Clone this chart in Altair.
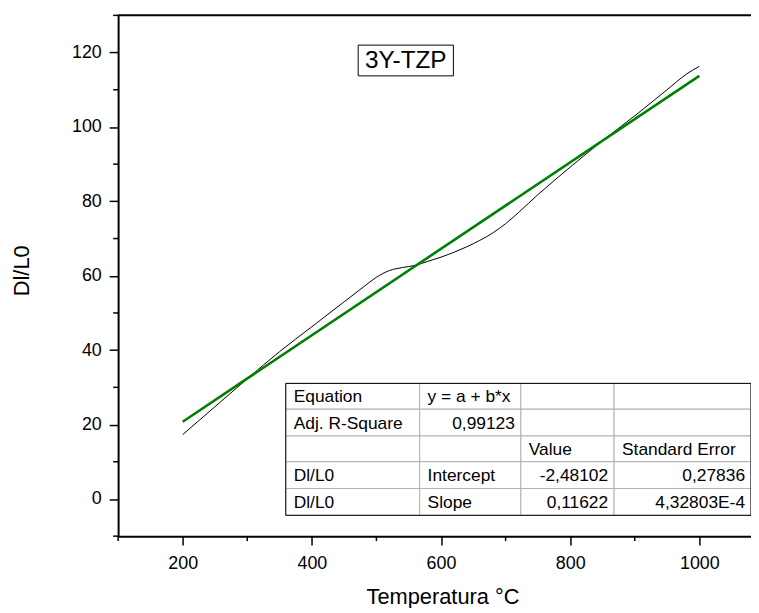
import altair as alt
import pandas as pd

# ---- data ----
temperature = [200, 250, 300, 350, 400, 450, 480, 500, 520, 540, 560, 580, 600,
               620, 640, 660, 680, 700, 720, 750, 800, 850, 900, 950, 980, 1000]
dl_l0 = [17.3, 24.8, 32.3, 39.6, 46.3, 53.0, 57.0, 59.6, 61.4, 62.2, 62.8, 63.9, 65.0,
         66.3, 67.8, 69.5, 71.5, 74.0, 77.0, 81.8, 89.2, 96.3, 103.0, 110.0, 114.2, 116.3]

fit_intercept = -2.48102
fit_slope = 0.11622
fit_range = [200, 1000]

x_major = [200, 400, 600, 800, 1000]
x_minor = [100, 300, 500, 700, 900]
y_major = [0, 20, 40, 60, 80, 100, 120]
y_minor = [-10, 10, 30, 50, 70, 90, 110, 130]

sample_label = "3Y-TZP"
x_title = "Temperatura °C"
y_title = "Dl/L0"

table_rows = [
    ["Equation", "y = a + b*x", "", ""],
    ["Adj. R-Square", "0,99123", "", ""],
    ["", "", "Value", "Standard Error"],
    ["Dl/L0", "Intercept", "-2,48102", "0,27836"],
    ["Dl/L0", "Slope", "0,11622", "4,32803E-4"],
]

# ---- layout (pixels inside plot area) ----
W, H = 638, 525
FONT = "Liberation Sans"
col_edges = [169, 304, 406, 500, 638]
row_edges = [371, 397, 424, 450, 477, 504]

x_scale = alt.Scale(domain=[100, 1080], nice=False, zero=False)
y_scale = alt.Scale(domain=[-10, 130], nice=False, zero=False)

x_axis = alt.Axis(
    values=x_major, format="d", tickSize=9, labelPadding=10,
    titleX=327, titleY=68, titleAlign="center", titleBaseline="alphabetic",
)
y_axis = alt.Axis(
    values=y_major, format="d", tickSize=9, labelPadding=8,
    titleX=-97, titleY=257, titleAngle=-90, titleAlign="center", titleBaseline="middle",
)

df = pd.DataFrame({"T": temperature, "D": dl_l0})
fit_df = pd.DataFrame({"T": fit_range,
                       "D": [fit_intercept + fit_slope * t for t in fit_range]})

curve = alt.Chart(df).mark_line(color="black", strokeWidth=1, interpolate="monotone").encode(
    x=alt.X("T:Q", scale=x_scale, axis=x_axis, title=x_title),
    y=alt.Y("D:Q", scale=y_scale, axis=y_axis, title=y_title),
)
fit = alt.Chart(fit_df).mark_line(color="#008000", strokeWidth=2.6).encode(
    x=alt.X("T:Q", scale=x_scale),
    y=alt.Y("D:Q", scale=y_scale),
)

# minor ticks
x_minor_ticks = alt.Chart(pd.DataFrame({"v": x_minor})).mark_rule(
    color="black", strokeWidth=1.5).encode(
    x=alt.X("v:Q", scale=x_scale), y=alt.value(H), y2=alt.value(H + 5)
)
y_minor_ticks = alt.Chart(pd.DataFrame({"v": y_minor})).mark_rule(
    color="black", strokeWidth=1.5).encode(
    y=alt.Y("v:Q", scale=y_scale), x=alt.value(-5), x2=alt.value(0)
)

top_border = alt.Chart(pd.DataFrame({"a": [0]})).mark_rule(color="black", strokeWidth=2).encode(
    x=alt.value(0), x2=alt.value(W), y=alt.value(0)
)

label_df = pd.DataFrame({"txt": [sample_label]})
label_box = alt.Chart(label_df).mark_rect(fill="white", stroke="black", strokeWidth=1).encode(
    x=alt.value(242), x2=alt.value(338), y=alt.value(30), y2=alt.value(61)
)
label_text = alt.Chart(label_df).mark_text(font=FONT, fontSize=24.5, align="center",
                                           baseline="middle", color="black").encode(
    x=alt.value(290), y=alt.value(46.5), text="txt:N"
)

# table cells
cells = []
for r, row in enumerate(table_rows):
    for c, txt in enumerate(row):
        is_num = len(txt) > 0 and (txt[0].isdigit() or (txt[0] == "-" and txt[1].isdigit()))
        cells.append({
            "x": col_edges[c], "x2": col_edges[c + 1],
            "y": row_edges[r], "y2": row_edges[r + 1],
            "yc": (row_edges[r] + row_edges[r + 1]) / 2 + 1,
            "tl": col_edges[c] + 8, "tr": col_edges[c + 1] - 6,
            "txt": txt, "num": is_num,
        })
cells_df = pd.DataFrame(cells)

cell_rects = alt.Chart(cells_df).mark_rect(fill="white", stroke="#b0b0b0", strokeWidth=1).encode(
    x=alt.X("x:Q", scale=None, axis=None), x2="x2:Q",
    y=alt.Y("y:Q", scale=None, axis=None), y2="y2:Q",
)
outer_df = pd.DataFrame({"x": [col_edges[0]], "x2": [col_edges[-1]],
                         "y": [row_edges[0]], "y2": [row_edges[-1]]})
outer_rect = alt.Chart(outer_df).mark_rect(fill=None, stroke="black", strokeWidth=1).encode(
    x=alt.X("x:Q", scale=None, axis=None), x2="x2:Q",
    y=alt.Y("y:Q", scale=None, axis=None), y2="y2:Q",
)
text_left = alt.Chart(cells_df).transform_filter("!datum.num").mark_text(
    font=FONT, fontSize=17.5, align="left", baseline="middle", color="black").encode(
    x=alt.X("tl:Q", scale=None, axis=None), y=alt.Y("yc:Q", scale=None, axis=None), text="txt:N"
)
text_right = alt.Chart(cells_df).transform_filter("datum.num").mark_text(
    font=FONT, fontSize=17.5, align="right", baseline="middle", color="black").encode(
    x=alt.X("tr:Q", scale=None, axis=None), y=alt.Y("yc:Q", scale=None, axis=None), text="txt:N"
)

chart = alt.layer(
    curve, fit, x_minor_ticks, y_minor_ticks, top_border,
    cell_rects, outer_rect, text_left, text_right, label_box, label_text
).properties(
    width=W, height=H,
    autosize=alt.AutoSizeParams(type="none"),
    padding={"left": 111, "top": 5, "right": 0, "bottom": 70},
).configure_view(stroke=None).configure_axis(
    labelFont=FONT, titleFont=FONT, labelFontSize=18, titleFontSize=22,
    titleFontWeight="normal", labelColor="black", titleColor="black",
    domainColor="black", domainWidth=2, tickColor="black", tickWidth=1.5, grid=False,
    labelOverlap=False,
)

chart.save("out.html", embed_options={"renderer": "svg", "actions": False})
